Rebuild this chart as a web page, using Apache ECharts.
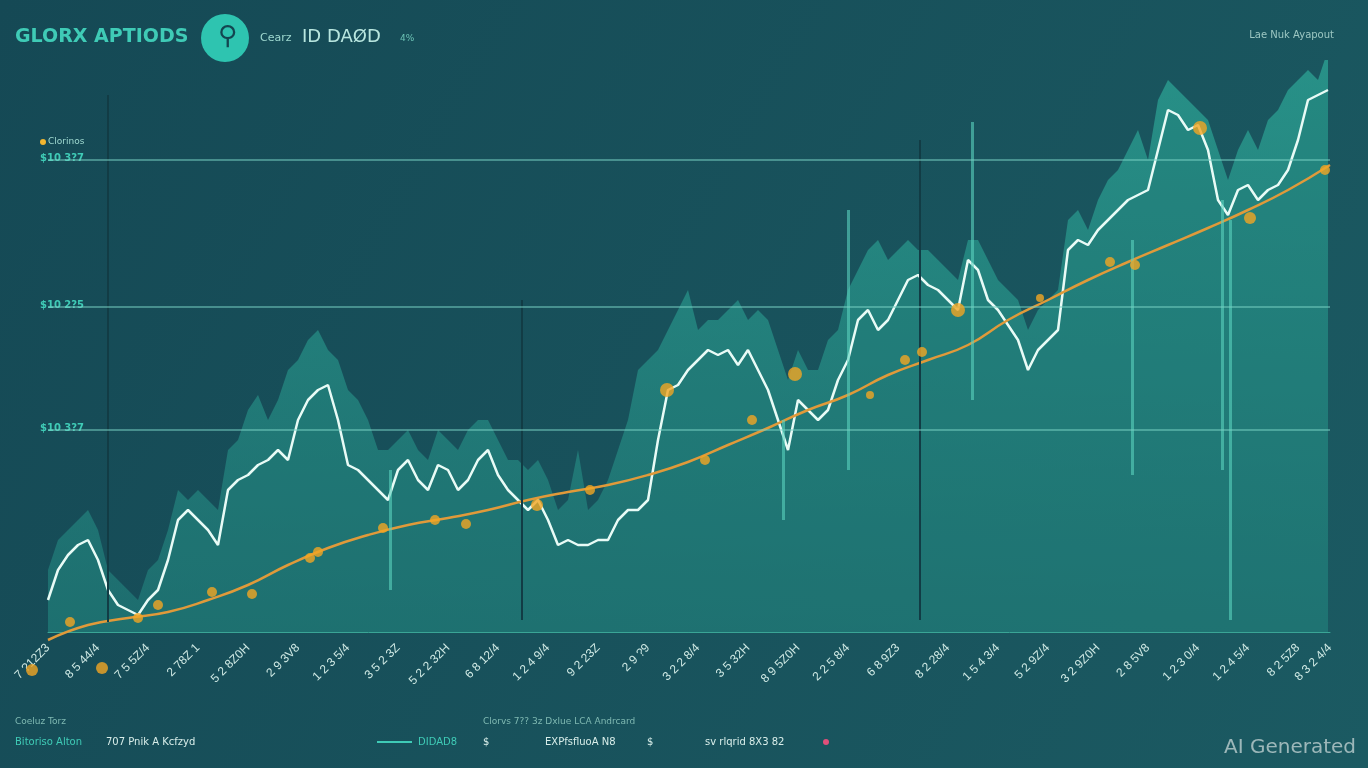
<!DOCTYPE html><html><head><meta charset="utf-8">
<script src="https://cdn.jsdelivr.net/npm/echarts@6/dist/echarts.min.js"></script>
<style>html,body{margin:0;height:100%;background:#164c58}#c{width:1368px;height:768px}</style></head><body><div id="c"></div>
<script>
// x positions (0 = left of plot), values = height above baseline
const xs=[0,10,20,30,40,50,60,70,80,90,100,110,120,130,140,150,160,170,180,190,200,210,220,230,240,250,260,270,280,290,300,310,320,330,340,350,360,370,380,390,400,410,420,430,440,450,460,470,480,490,500,510,520,530,540,550,560,570,580,590,600,610,620,630,640,650,660,670,680,690,700,710,720,730,740,750,760,770,780,790,800,810,820,830,840,850,860,870,880,890,900,910,920,930,940,950,960,970,980,990,1000,1010,1020,1030,1040,1050,1060,1070,1080,1090,1100,1110,1120,1130,1140,1150,1160,1170,1180,1190,1200,1210,1220,1230,1240,1250,1260,1270,1280];
const priceLine=[32,62,77,87,92,72,42,27,22,17,32,42,72,112,122,112,102,87,142,152,157,167,172,182,172,212,232,242,247,212,167,162,152,142,132,162,172,152,142,167,162,142,152,172,182,157,142,132,122,132,112,87,92,87,87,92,92,112,122,122,132,192,242,247,262,272,282,277,282,267,282,262,242,212,182,232,222,212,222,252,272,312,322,302,312,332,352,357,347,342,332,322,372,362,332,322,307,292,262,282,292,302,382,392,387,402,412,422,432,437,442,482,522,517,502,507,482,432,417,442,447,432,442,447,462,492,532,537,542];
const envelope=[62,92,102,112,122,102,62,52,42,32,62,72,102,142,132,142,132,122,182,192,222,237,212,232,262,272,292,302,282,272,242,232,212,182,182,192,202,182,172,202,192,182,202,212,212,192,172,172,162,172,152,122,132,182,122,132,152,182,212,262,272,282,302,322,342,302,312,312,322,332,312,322,312,282,252,282,262,262,292,302,342,362,382,392,372,382,392,382,382,372,362,352,392,392,372,352,342,332,302,322,332,342,412,422,402,432,452,462,482,502,472,532,552,542,532,522,512,482,452,482,502,482,512,522,542,552,562,552,582];
const trendX=[0,40,80,120,160,200,240,280,320,360,400,440,480,520,560,600,640,680,720,760,800,840,880,920,960,1000,1040,1080,1120,1160,1200,1240,1282];
const trendY=[-8,7,14,20,32,47,67,84,97,107,114,122,132,140,147,157,170,187,204,222,237,257,272,287,312,332,352,370,387,404,422,442,467];
const dotX=[-16,22,54,90,110,164,204,262,270,335,387,418,489,542,619,657,704,747,822,857,874,910,992,1062,1087,1152,1202,1277];
const dotY=[-38,10,-36,14,27,40,38,74,80,104,112,108,127,142,242,172,212,258,237,272,280,322,334,370,367,504,414,462];
const dotR=[6,5,6,5,5,5,5,5,5,5,5,5,6,5,7,5,5,7,4,5,5,7,4,5,5,7,6,5];
const yTicks=[{v:202,t:'$10 3?7'},{v:325,t:'$10 2?5'},{v:472,t:'$10 3?7'}];
const xTickLabels=['7 ?12Z3','8 5 44/4','7 5 5Z/4','2 78Z 1','5 2 8Z0H','2 9 3V8','1 2 3 5/4','3 5 2 3Z','5 2 2 32H','6 8 12/4','1 2 4 9/4','9 2 23Z','2 9 ?9','3 2 2 8/4','3 5 32H','8 9 5Z0H','2 2 5 8/4','6 8 9Z3','8 2 28/4','1 5 4 3/4','5 2 9Z/4','3 2 9Z0H','2 8 5V8','1 2 3 0/4','1 2 4 5/4','8 2 5Z8','8 3 2 4/4'];
const darkV=[[60,537,10],[474,332,12],[872,492,12]];
const lightV=[[800,422,162],[924,510,232],[1174,432,162],[1084,392,157],[342,162,42],[735,212,112],[1182,412,12]];
const ch=echarts.init(document.getElementById('c'));
const mk=(arr,col,w)=>arr.map(a=>[{coord:[a[0],a[1]],lineStyle:{color:col,width:w,type:'solid'}},{coord:[a[0],a[2]]}]);
ch.setOption({
 backgroundColor:{type:'linear',x:0,y:0,x2:1,y2:1,colorStops:[{offset:0,color:'#154955'},{offset:1,color:'#1b5a62'}]},
 animation:false,
 grid:{left:48,right:38,top:60,bottom:136},
 xAxis:{type:'value',min:0,max:1282,interval:50,axisLine:{show:true,lineStyle:{color:'#3aa596'}},axisTick:{show:false},splitLine:{show:false},
  axisLabel:{color:'#cfe9e4',fontSize:12,rotate:45,margin:14,formatter:(v)=>xTickLabels[Math.round(v/50)]||''}},
 yAxis:{type:'value',min:0,max:572,axisLine:{show:false},axisTick:{show:false},splitLine:{show:false},axisLabel:{show:false}},
 series:[
  {type:'line',data:xs.map((x,i)=>[x,envelope[i]]),symbol:'none',lineStyle:{width:0},
   areaStyle:{color:{type:'linear',x:0,y:0,x2:0,y2:1,colorStops:[{offset:0,color:'rgba(48,180,160,0.9)'},{offset:1,color:'rgba(34,130,125,0.85)'}]}},
   markLine:{symbol:'none',silent:true,label:{show:false},data:[...mk(darkV,'#123c45',2),...mk(lightV,'rgba(90,210,190,0.6)',3)]},z:1},
  {type:'line',data:xs.map((x,i)=>[x,priceLine[i]]),symbol:'none',lineStyle:{color:'#e8fbf6',width:2.5},
   areaStyle:{color:'rgba(30,120,118,0.45)'},z:3,
   markLine:{symbol:'none',silent:true,data:yTicks.map(t=>({yAxis:t.v,label:{show:false}})),lineStyle:{color:'rgba(120,210,195,0.5)',width:2,type:'solid'}}},
  {type:'line',data:trendX.map((x,i)=>[x,trendY[i]]),smooth:true,symbol:'none',lineStyle:{color:'#e09a3a',width:2.5},z:4,clip:false},
  {type:'scatter',data:dotX.map((x,i)=>[x,dotY[i],dotR[i]]),symbolSize:d=>d[2]*2,itemStyle:{color:'#f2a623'},z:5,clip:false}
 ],
 graphic:[
  {type:'text',left:15,top:28,style:{text:'GLORX APTIODS',fill:'#3fcbb6',font:'bold 19px "DejaVu Sans"'}},
  {type:'circle',shape:{cx:225,cy:38,r:24},style:{fill:'#2ec4b0'}},
  {type:'text',left:218,top:24,style:{text:'⚲',fill:'#134550',font:'bold 26px "DejaVu Sans"'}},
  {type:'text',left:260,top:33,style:{text:'Cearz',fill:'#9fd9d0',font:'11px "DejaVu Sans"'}},
  {type:'text',left:302,top:28,style:{text:'ID DAØD',fill:'#b8e6df',font:'18px "DejaVu Sans"'}},
  {type:'text',left:400,top:34,style:{text:'4%',fill:'#6cc3b5',font:'9px "DejaVu Sans"'}},
  {type:'text',right:34,top:30,style:{text:'Lae Nuk Ayapout',fill:'#9cc7c2',font:'10px "DejaVu Sans"'}},
  {type:'circle',shape:{cx:43,cy:142,r:3},style:{fill:'#f2b630'}},
  {type:'text',left:48,top:137,style:{text:'Clorinos',fill:'#9fd9d0',font:'9px "DejaVu Sans"'}},
  ...yTicks.map(t=>({type:'text',left:40,top:632-t.v-7,style:{text:t.t,fill:'#3fcbb6',font:'bold 10px "DejaVu Sans"'}})),
  {type:'text',left:15,top:717,style:{text:'Coeluz Torz',fill:'#7fb9b2',font:'9px "DejaVu Sans"'}},
  {type:'text',left:15,top:737,style:{text:'Bitoriso Alton',fill:'#3fcbb6',font:'10px "DejaVu Sans"'}},
  {type:'text',left:106,top:737,style:{text:'707 Pnik A Kcfzyd',fill:'#d9eeea',font:'10px "DejaVu Sans"'}},
  {type:'text',left:483,top:717,style:{text:'Clorvs 7?? 3z Dxlue LCA Andrcard',fill:'#7fb9b2',font:'9px "DejaVu Sans"'}},
  {type:'line',shape:{x1:377,y1:742,x2:412,y2:742},style:{stroke:'#3fcbb6',lineWidth:2}},
  {type:'text',left:418,top:737,style:{text:'DIDAD8',fill:'#3fcbb6',font:'10px "DejaVu Sans"'}},
  {type:'text',left:483,top:737,style:{text:'$',fill:'#d9eeea',font:'10px "DejaVu Sans"'}},
  {type:'text',left:545,top:737,style:{text:'EXPfsfluoA N8',fill:'#d9eeea',font:'10px "DejaVu Sans"'}},
  {type:'text',left:647,top:737,style:{text:'$',fill:'#d9eeea',font:'10px "DejaVu Sans"'}},
  {type:'text',left:705,top:737,style:{text:'sv rlqrid 8X3 82',fill:'#d9eeea',font:'10px "DejaVu Sans"'}},
  {type:'circle',shape:{cx:826,cy:742,r:3},style:{fill:'#e0507a'}},
  {type:'text',right:12,bottom:10,style:{text:'AI Generated',fill:'rgba(200,215,215,0.75)',font:'20px "DejaVu Sans"'}}
 ]
});
</script></body></html>
